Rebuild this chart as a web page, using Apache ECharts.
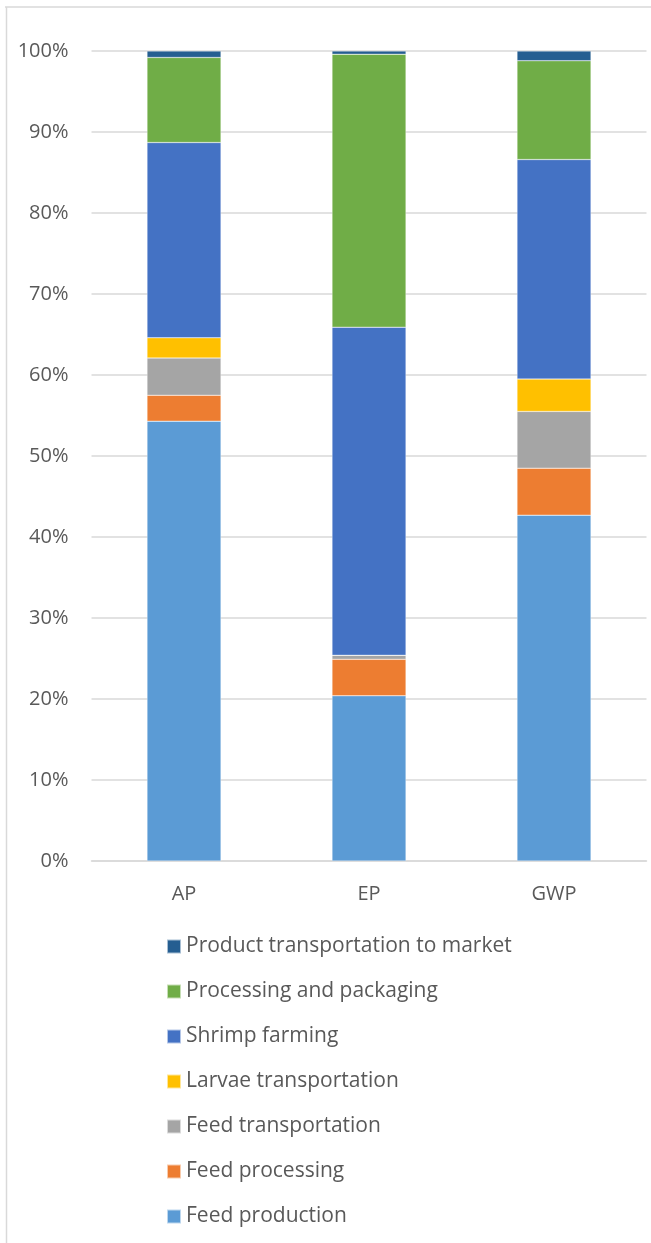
<!DOCTYPE html>
<html><head><meta charset="utf-8">
<script src="https://cdn.jsdelivr.net/npm/echarts@6/dist/echarts.min.js"></script>
<style>html,body{margin:0;padding:0;background:#fff}#c{width:651px;height:1243px}</style>
</head><body><div id="c"></div>
<script>
const categories = ['AP', 'EP', 'GWP'];
const seriesNames = ['Feed production', 'Feed processing', 'Feed transportation', 'Larvae transportation', 'Shrimp farming', 'Processing and packaging', 'Product transportation to market'];
const feedProduction = [54.3, 20.4, 42.7];
const feedProcessing = [3.2, 4.5, 5.8];
const feedTransportation = [4.6, 0.5, 7.0];
const larvaeTransportation = [2.5, 0.0, 4.0];
const shrimpFarming = [24.1, 40.5, 27.1];
const processingPackaging = [10.5, 33.7, 12.2];
const productTransport = [0.8, 0.4, 1.2];
const yTicks = [0, 10, 20, 30, 40, 50, 60, 70, 80, 90, 100];

const values = [feedProduction, feedProcessing, feedTransportation, larvaeTransportation, shrimpFarming, processingPackaging, productTransport];
const colors = ['#5B9BD5', '#ED7D31', '#A5A5A5', '#FFC000', '#4472C4', '#70AD47', '#255E91'];
const font = '"Open Sans", sans-serif';

const chart = echarts.init(document.getElementById('c'), null, {renderer: 'canvas'});
chart.setOption({
  animation: false,
  backgroundColor: '#fff',
  graphic: [
    {type: 'line', shape: {x1: 5, y1: 7, x2: 651, y2: 7}, style: {stroke: '#d9d9d9', lineWidth: 1.5}},
    {type: 'line', shape: {x1: 6.5, y1: 7, x2: 6.5, y2: 1243}, style: {stroke: '#d9d9d9', lineWidth: 1.5}}
  ],
  grid: {left: 91.5, right: 4.5, top: 51, bottom: 1243 - 861, containLabel: false},
  xAxis: {
    type: 'category', data: categories,
    axisLine: {show: true, lineStyle: {color: '#d9d9d9', width: 1.5}},
    axisTick: {show: false},
    axisLabel: {color: '#595959', fontSize: 20, fontFamily: font, margin: 23}
  },
  yAxis: {
    type: 'value', min: 0, max: 100, interval: 10,
    axisLine: {show: false}, axisTick: {show: false},
    splitLine: {lineStyle: {color: '#d9d9d9', width: 1.5}},
    axisLabel: {color: '#595959', fontSize: 20, fontFamily: font, margin: 23,
      formatter: v => yTicks.includes(v) ? v + '%' : ''}
  },
  legend: {
    orient: 'vertical', left: 161, top: 931, height: 320,
    itemWidth: 14, itemHeight: 14, itemGap: 24,
    icon: 'rect',
    data: seriesNames.slice().reverse(),
    textStyle: {color: '#595959', fontSize: 21, fontFamily: font}
  },
  series: seriesNames.map((n, i) => ({
    name: n, type: 'bar', stack: 'total', barWidth: '40%',
    data: values[i],
    itemStyle: {color: colors[i], borderColor: 'rgba(255,255,255,0.6)', borderWidth: 0.5}
  }))
});
</script></body></html>
